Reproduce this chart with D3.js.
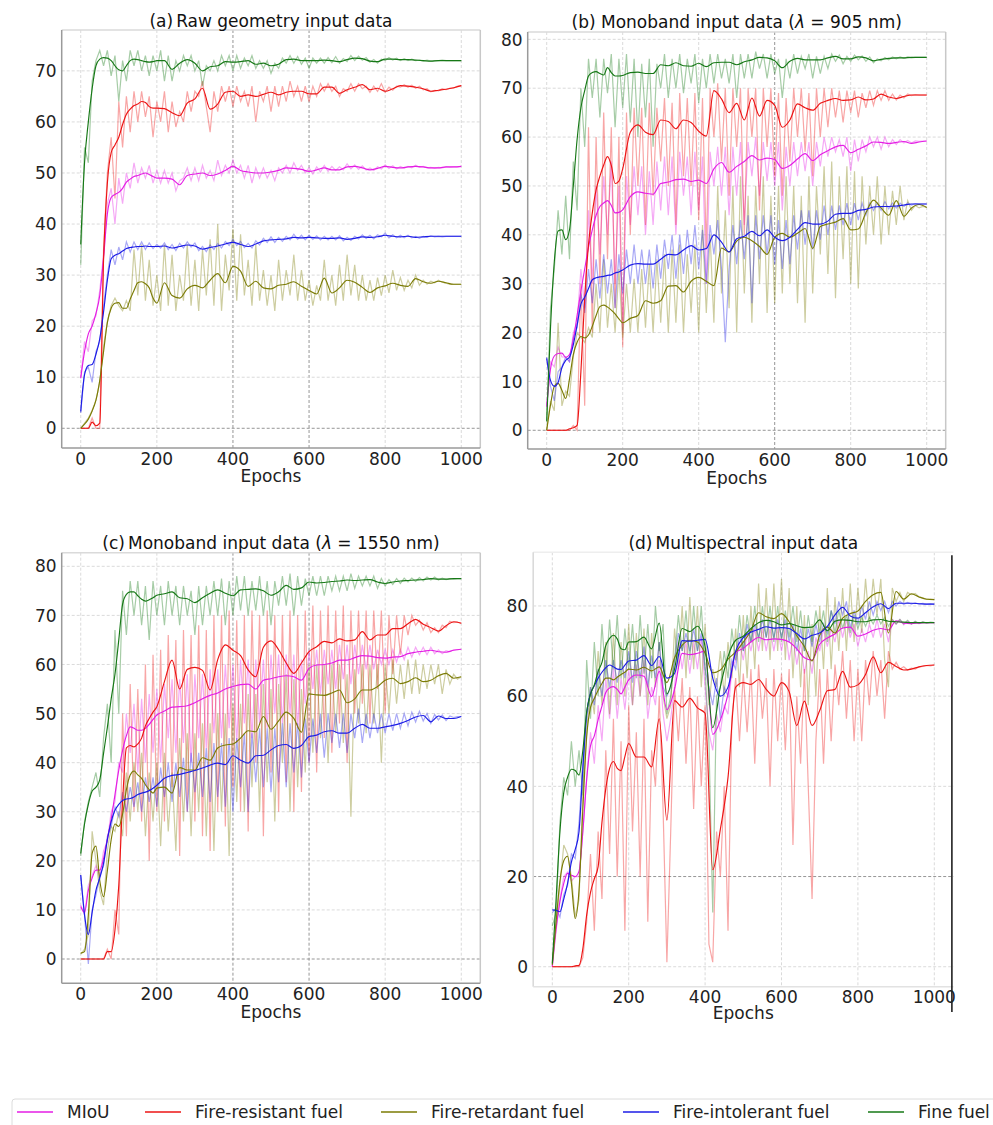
<!DOCTYPE html>
<html>
<head>
<meta charset="utf-8">
<script src="https://d3js.org/d3.v7.min.js"></script>
<style>
  body { margin: 0; background: #fff; }
  svg { font-family: "DejaVu Sans", sans-serif; }
</style>
</head>
<body>
<script>
// ---- series / legend ----
const seriesNames  = ["MIoU", "Fire-resistant fuel", "Fire-retardant fuel", "Fire-intolerant fuel", "Fine fuel"];
const seriesColors = ["#e41ee4", "#ec1414", "#7b7b05", "#1c1ce6", "#167816"];
const xTicks = [0, 200, 400, 600, 800, 1000];

// smoothed curves sampled every 10 epochs up to 190, then every 20
const smoothEpochs = d3.range(0, 200, 10).concat(d3.range(200, 1001, 20));
// raw curves sampled every 10 epochs
const rawEpochs = d3.range(0, 1001, 10);

// ---------- (a) Raw geometry ----------
const aMiouSmooth = [9.8,15,18.5,20,22.5,26,33.4,42,45.2,45.8,46.2,
  47,48.2,48.8,49.3,49.5,49.8,50,49.7,49.3,49,
  49,48.8,47.7,49.5,49.8,50,49.5,49.8,50.5,51.3,
  50.5,50.2,50,50,50.2,50.5,51,50.9,50.7,50.3,
  50.6,51,50.6,50.6,51.2,51.3,51,50.6,50.9,51.3,
  51.1,51,51.2,51.3,51.2,51,51,51.2,51.2,51.3];
const aFrSmooth = [0,0,0,1.2,0.5,1,33,48,54,55.5,57,
  59.5,61.5,62.5,63.2,63.5,64,63.8,63,62.7,62.7,
  62.6,61.8,61.2,63.7,64.5,66.6,62.5,63.5,65.8,66,
  65,65.3,65,65.4,65.8,65.3,65.8,66,66,65.5,
  65.5,66.8,66.8,65.6,66.3,66.8,67.3,66.3,66.6,66,
  66.5,67.1,67,66.8,66.5,66,66.2,66.4,66.7,67.1];
const aFtSmooth = [0,0.8,1.8,3.4,5.5,9.4,15,20.7,23.5,24.5,24.6,
  23.5,23.5,25.3,27,28.5,28.7,28.3,27.5,25.5,24.5,
  28.5,26,25.5,27.3,28,27.5,29,30.3,28.5,31.7,
  30.8,27.8,28.8,27.5,27.3,28,28.2,28.7,27.8,27,
  26.3,29.4,26.5,27.5,29,28.6,27.6,26.6,27.5,27.9,
  28.4,28,27.8,29.3,28.7,28.4,28.8,28.5,28.2,28.2];
const aFiSmooth = [3.3,10.5,12.3,12.5,14.5,17.5,22.8,29,33.2,33.9,34.2,
  34.7,35.2,35.4,35.5,35.6,35.6,35.7,35.6,35.6,35.6,
  35.7,35.3,35.6,35.9,35.7,35.1,35.4,35.7,36.1,36.4,
  36,35.6,36.1,36.7,36.9,37,37.1,37.4,37.3,37.4,
  37.3,37.2,37.2,37.3,37,37.2,37.5,37.4,37.5,37.8,
  37.6,37.5,37.6,37.4,37.5,37.6,37.6,37.6,37.6,37.6];
const aFfSmooth = [36,52,60,66.5,71,72.3,72.6,72.5,72,71,70.2,
  70,71,72,72.3,72.2,72,71.8,71.7,71.8,72,
  72,70.3,71.5,72.2,71.5,70,70.8,71,71.8,71.7,
  71.8,72,71.3,71.5,71,71.3,72.2,72.3,72,72,
  72,72.1,72,71.8,72.2,72.5,72.4,71.9,71.8,72.3,
  72.3,72.2,72.2,72.1,72,71.9,72,72,72,72];

const aMiouRaw = [10,17,15,21,22,27,34,44,47,40,
  49,44,50,47,52,48,51,49,51.5,48,
  50.5,48,50.5,48,50,46.5,48.5,49,51,48.5,
  51,48.5,51.5,49,50.5,48.5,52.5,49.5,51.5,50,
  52.5,50,51.5,49,51.5,48,51,49,51,49,
  50.5,48.5,51,50,51.5,50,52,50.5,51.5,50,
  51,49.8,51.2,50.2,51.5,50.3,51.3,50.5,51.2,50.6,
  51.8,50.8,51.6,50.7,51.4,50.6,51,50.5,51.2,50.8,
  51.6,50.9,51.4,50.8,51.3,50.9,51.3,51,51.5,51.1,
  51.3,51,51.1,50.9,51.1,51,51.2,51.1,51.2,51.2,
  51.3];
const aFrRaw = [0,0,0,2,0,0,35,50,57,45,
  64,55,65,58,66,60,66,61,65,57,
  64,60,66,58,64,59,62,60,66,62,
  66,65,68,63,58,66,62,67,64,67,
  63,67,64,66,63,67,60,66,64,67,
  62,67,63,67,64,68,65,67,64,67,
  64,67,65,67.5,66,67.5,66,67,65,66.5,
  66,67.5,66,67.5,66.5,67,65.8,67,66,67.5,
  65.8,66.8,66.2,67,66.8,67.3,66.8,67.2,66.6,67,
  66.3,66.5,65.9,66.2,66.1,66.5,66.3,66.6,66.6,67,
  67.1];
const aFtRaw = [0,1,2,3.5,5.5,9,16,21,24,25.5,
  24,23,25,23,35,26,36,25,33,24,
  30,23,36,24,34,23,30,25,36,24,
  33,23,35,26,37,24,40,23,34,27,
  39,25,38,26,33,24,36,25,31,24,
  30,23,33,25,31,26,34,25,31,25,
  29,24,28,25,33,25,30,24,32,25,
  34,26,32,25,30,25,29,25,29.5,26,
  30,26.5,31,27,29.5,27,29,27.5,30,28,
  29,28.2,28.8,28.5,29,28.6,28.4,28.2,28.2,28.2,
  28.2];
const aFiRaw = [3,11,12,9,15,17,24,30,35,32,
  35.5,33,36.5,34.5,36.5,35,36.5,35,36.3,35.2,
  36,35.3,36.3,35,36,34.8,36.2,35.3,36.5,35.5,
  36.3,34.8,35.6,34.6,35.9,35,36.2,35.3,36.6,35.8,
  37,35.8,36.6,35.4,36.2,35.3,36.7,35.9,37.2,36.4,
  37.5,36.4,37.4,36.6,37.6,36.9,38,37,37.8,36.9,
  37.8,37,37.7,36.9,37.6,36.9,37.6,36.9,37.7,36.7,
  37.4,36.8,37.6,37.1,37.9,37.2,37.8,37.1,37.9,37.5,
  38.2,37.3,37.9,37.3,37.8,37.3,37.8,37.3,37.6,37.2,
  37.6,37.4,37.7,37.5,37.6,37.5,37.6,37.6,37.6,37.6,
  37.6];
const aFfRaw = [32,55,52,68,72,74,71,74,69,73,
  64,72,68,74,71,74,70,73,69,73,
  70,74,68,73,68,72,70,73,71,73,
  70,72,67,71,70,72,70,73,71,73,
  70,73,70.5,72.5,71,73,70.5,72,70.5,72,
  69.5,71.5,70.5,72.5,71.5,73,71.5,72.8,71.3,72.5,
  70.5,72.5,71.5,72.5,71.5,72.6,71.6,72.8,71.5,72.4,
  71.8,73,72,72.9,72.1,72.6,71.7,72.2,71.5,72.3,
  72,72.6,72.1,72.5,72,72.4,72,72.3,72,72.1,
  71.9,72.1,71.9,72,72,72.1,72,72,72,72,
  72];

// ---------- (b) Monoband 905 nm ----------
const bMiouSmooth = [4.8,12.5,15.2,15.7,15.8,14.9,15.5,18.5,23.5,28.5,33,
  37.5,41,44,45.8,46.5,47,46,44.5,44.6,45.1,
  47.8,48.8,48.5,48.3,50.5,50.8,51.3,51.4,50.9,51.2,
  50.5,53.5,54.8,52.8,54,55,56.2,55.3,55.7,55.4,
  53.6,54.2,55.5,56.6,55.2,56.4,57.2,58,58.3,56.8,
  57.5,58.2,59,58.9,58.7,58.9,59.1,58.7,59,59.2];
const bFrSmooth = [0,0,0,0,0,0,0.3,0.5,1,12,27,
  38,44.5,49.2,52,54.3,56,54.2,50.5,51,53.5,
  61,62.5,61,60.5,63.5,63.2,61.7,63.5,63,61.2,
  60.2,69.5,67.8,65,66.9,63.5,68,64.3,67.5,66.5,
  62,63.5,66.8,66,65.5,66.9,67.5,67.9,67.5,67.6,
  68.2,67.6,67.8,68.8,68.2,67.9,68.3,68.6,68.6,68.6];
const bFtSmooth = [0,5.2,9,9.6,8.2,6.5,10.5,15.5,18,19.2,18.9,
  19.5,21.3,23.5,25.3,25.6,25.2,24.6,23.8,22.8,22,
  22.9,23.5,26.5,26,26.5,29.5,29.6,28.3,30.5,31.3,
  30.5,29.6,37.3,36.5,38.7,39.5,38.8,37.6,36,39.5,
  40.3,39.5,40.3,41.3,37.2,41.7,42.2,42.6,43.3,41,
  41.2,44.5,47.1,45.5,44,47,43.8,45.5,46.2,45.6];
const bFiSmooth = [14.7,10.2,9,9.8,12.8,14.3,15,17.5,21.5,25.8,27.2,
  29,30.8,31.2,31.4,31.5,31.7,31.8,32.2,32.4,32.8,
  33.8,34.1,34,34,35,36,35.9,36.9,37.8,36.9,
  37.2,40,38.5,36.5,39.2,39.7,40.7,39.8,41,39.5,
  38.8,39.5,41.1,42.5,42.2,42.2,42.8,44.2,44.4,44.4,
  45,45.2,45.7,45.8,45.8,45.9,46.1,46.3,46.3,46.3];
const bFfSmooth = [1.8,21,34.5,40.8,41,39,41,50,59.5,66,69.5,
  72.5,73.2,73.4,73,72.7,74.2,73.2,72.5,72.5,72.6,
  73.2,73.3,73,73,74.8,74.6,75.2,74.6,74.5,75.1,
  74.4,75.2,75.3,75.3,74.8,75.4,75.8,76.3,76.2,75.6,
  74.2,75.5,76.1,75.8,75.8,75.8,76.2,76.5,76,76,
  76.4,76.2,75.6,75.9,76.1,76.2,76.2,76.3,76.3,76.3];

const bMiouRaw = [5,14,13,17,15,15,14,20,22,33,
  25,45,30,50,36,52,40,55,30,50,
  20,52,42,54,44,54,40,53,42,55,
  45,56,44,56,40,57,48,56,44,57,
  45,56,30,57,50,58,48,58,44,58,
  48,59,42,59,52,60,48,59,51,59,
  50,59,45,58,50,59,52,59,53,59,
  50,59,54,60,56,60,57,59.5,56,60,
  53,59.5,55,59.5,57,60,58,60,57.5,60,
  58,59.5,58.5,59.5,58.8,59.3,58.8,59.2,59.1,59.2,
  59.2];
const bFrRaw = [0,0,0,0,0,0,0,1,0,30,
  5,62,20,60,30,65,35,62,25,60,
  17,65,40,66,50,66,42,67,48,66,
  55,68,50,67,42,69,52,68,50,69,
  43,68,37,70,60,71,55,70,48,70,
  58,70,40,70,60,70,45,70,58,70,
  52,69,48,68,55,70,60,70,57,69,
  52,70,60,70,62,70,64,69.5,63,69.5,
  65,69.5,64,69,66,69.5,66.5,69.5,67.5,69.5,
  67.5,68.8,67.6,68.6,68,68.8,68.5,68.7,68.6,68.6,
  68.6];
const bFtRaw = [0,6,4,22,5,8,7,15,20,19,
  18,21,19,30,20,35,21,30,20,33,
  19,30,20,31,20,33,21,34,20,35,
  22,36,20,37,22,38,20,36,24,38,
  20,42,24,40,22,50,28,45,25,50,
  20,52,28,48,22,50,30,52,24,48,
  26,50,28,52,30,50,26,48,22,52,
  28,50,36,54,32,55,27,52,35,54,
  30,53,29,52,38,50,40,52,38,50,
  40,49,42,50,43,47,45,46,45.5,45.8,
  45.6];
const bFiRaw = [15,9,6,12,13,15,14,19,21,28,
  24,33,26,35,27,36,28,35,25,36,
  28,37,30,38,30,37,30,37,29,38,
  31,39,33,40,31,40,32,41,34,42,
  33,41,30,42,36,43,33,18,33,42,
  34,43,35,44,26,44,35,44,36,44,
  34,43,33,43,34,44,37,45,38,45,
  37,45,39,46,40,46,41,46,42,46.5,
  42,46.5,43,46.5,44,46.5,45,46.5,45,46.8,
  45.3,46.5,45.5,46.5,45.8,46.5,46.1,46.4,46.3,46.3,
  46.3];
const bFfRaw = [2,25,33,45,36,48,35,55,45,70,
  58,76,68,76,64,76,69,77,62,76,
  66,77,63,76,60,75,64,76,58,75,
  70,77,68,76,70,77,69,76,71,77,
  67,76,70,77,71,77,72,76,71,77,
  68,77,72,77,72,77.5,74,77,72,77,
  73,76,68,76,72,77,73,76.5,74,77,
  72,76.5,73,76.5,74,77,75.5,76.8,75,76.5,
  75.5,76.8,75.8,76.6,75.5,76.4,75.2,76,75.6,76.3,
  75.8,76.4,76,76.4,76.1,76.4,76.2,76.3,76.3,76.3,
  76.3];

// ---------- (c) Monoband 1550 nm ----------
const cMiouSmooth = [10.7,9.5,14,16.5,18.1,18.1,20.5,24.5,28.5,33.5,38.5,
  42.5,45.5,47.3,47,46.6,46.6,47,47.8,48.8,49.7,
  50.5,51.3,51.4,51.6,52.2,53,53.7,54.2,55,55.5,
  55.9,56,55,56.8,57.1,57.5,57.7,57.5,56.8,59.2,
  59.9,60,60.3,60.9,60.9,61.4,61.8,61.7,61.4,61.3,
  61.5,61.6,62.2,62.5,62.7,62.9,62.6,62.5,62.9,63.1];
const cFrSmooth = [0,0,0,0,0,0,0,1.5,1.5,5.9,15,
  32,43,43.5,43.2,43.8,45,47.5,49,50.3,51.4,
  56.5,60.9,55,59,59.4,58.8,54.8,61,64,62.9,
  61.8,58.9,57.5,63.5,64.8,63,60.3,58.2,60.3,62.6,
  63.6,64.7,64.4,65.2,64.8,65,66.7,65,66,66,
  67.3,67.3,68.3,69.2,68.2,67.5,66.8,67.9,68.7,68.4];
const cFtSmooth = [1.2,1.5,9,21.5,23,16,12.7,18,24.3,27.5,27,
  29.5,34.5,37.5,38.3,37.5,36.8,35.5,34.5,33.8,34.8,
  35,33.8,39,38.5,38.5,41,40.5,43,43.6,43.8,
  45,46.5,46.3,49.4,46.8,48.5,50.3,49,46.2,54,
  53.8,53.7,54.2,54.8,52.2,53,54.8,54.8,55.5,56.8,
  57.2,56.1,56.5,57.3,56.5,56.8,57.7,58.2,57.2,57.5];
const cFiSmooth = [17.1,9,5,9.5,14,16.5,19.5,24.3,28,30.3,31.5,
  32.3,32.6,32.7,33,33.5,33.8,34,34.3,34.8,35.4,
  36.8,37.4,37.6,38,38.4,38.9,39.5,39.9,39.6,41.4,
  40.5,39.9,41.4,41.5,42.6,43.5,43.7,42.9,43.5,45.3,
  45.6,46.3,46.5,46,46,47,47.8,47,47,47.3,
  47.6,48,48.6,49.3,49.6,48.3,49.5,49,49,49.4];
const cFfSmooth = [21.5,27.5,31.5,34.2,35,36.5,41.9,47.2,53,58,65,
  72.3,74.3,74.8,74.8,74,73.3,72.9,73.2,73.6,74.1,
  74.4,74.8,73.6,73.4,72.6,73.6,74.5,75.2,74.5,74,
  75.2,75.3,75.4,75,74.1,74.8,76.1,75.3,75.6,76.8,
  76.6,76.7,76.9,77,77.2,77.1,77.2,77.3,76.8,76.5,
  76.8,77,77.1,77.2,77.3,77.5,77.4,77.4,77.5,77.5];

const cMiouRaw = [11,9,15,17,19,17,22,24,30,32,
  40,38,50,42,52,38,53,40,54,42,
  55,40,56,45,57,42,57,44,58,40,
  58,45,58,43,59,46,59,45,60,47,
  60,44,61,48,61,45,61,48,61,47,
  62,50,62,48,62,50,62,47,61,52,
  63,55,63,54,63,56,63,55,64,57,
  64,56,64,58,64,59,64,59,63,60,
  63,60,63,60.5,63,61,63.5,61.5,63.5,62,
  63.5,62,63.5,62.2,63,62.2,62.8,62.6,63,63,
  63.1];
const cFrRaw = [0,0,0,0,0,0,0,2,0,10,
  5,50,25,56,30,55,28,60,20,62,
  30,63,28,66,35,65,21,67,30,66,
  28,68,25,67,22,70,30,70,27,71,
  35,69,30,70,26,71,40,70,25,71,
  38,70,30,70,36,71,30,70,34,71,
  40,72,38,71,45,72,42,71,48,72,
  40,71,50,71,52,71,48,71,55,71,
  50,70,58,70,62,70,66,70,68,69,
  67,68.5,66.5,67.5,66.5,68,67.5,68.8,68.5,68.6,
  68.4];
const cFtRaw = [1,2,5,26,20,14,11,22,27,26,
  30,25,38,28,40,30,42,25,38,28,
  40,23,42,26,38,22,45,28,46,25,
  46,30,48,25,48,22,50,30,50,21,
  52,32,52,30,54,35,54,30,56,36,
  55,28,56,40,58,30,57,35,55,38,
  60,42,60,45,60,40,60,46,60,44,
  58,29,59,48,60,46,60,48,60,40,
  60,50,61,52,60,53,61,54,61,54,
  60,55,60,56,60,54,59,56,58,57,
  57.5];
const cFiRaw = [17,9,-1,10,13,17,19,25,27,31,
  29,34,30,35,31,36,30,37,32,37,
  31,39,33,40,32,40,33,41,30,42,
  34,42,33,43,32,44,33,44,31,45,
  30,45,35,46,30,46,36,47,35,47,
  34,47,36,48,35,48,38,48,37,49,
  40,49,42,50,41,50,44,50,43,50,
  42,50,45,51,44,50,45,50,46,50,
  46,50,46.5,50,47,50,47.5,50.3,48.3,50.5,
  48.5,50,48,49.8,48.7,49.7,48.6,49.5,49.2,49.4,
  49.4];
const cFfRaw = [21,28,32,35,38,33,45,52,40,67,
  50,75,66,77,70,77,68,76,65,77,
  70,76,68,77,70,76,68,76,70,75,
  66,76,68,76,70,77,70,77.5,68,77,
  70,78,71,78,70,77,71,78,70,77,
  68,77,72,78,72,78.5,70,78,72,77.5,
  74,78,74,78,74,78,75,78,75,78,
  75,78.5,75.5,78,76,78,76,78,75.5,77.5,
  76,77.3,76.3,77.5,76.5,77.6,76.8,77.6,76.9,77.7,
  77,77.8,77.2,77.8,77.2,77.6,77.3,77.5,77.4,77.5,
  77.5];

// ---------- (d) Multispectral ----------
const dMiouSmooth = [0,8.5,14.5,18.5,20.7,20.3,20,21.2,30,41.5,49,
  51.2,54.8,57.8,60.8,61.8,62.1,61.5,60.5,62,63.6,
  64.7,64.4,59.9,65.5,57,61.5,69.5,69.2,69.5,70,
  51.5,54.7,60.5,69.6,70.6,72,73,72.5,72.7,72.6,
  72,70.5,68.5,68,71.5,72.9,73.8,75.1,75.3,73.3,
  73.8,74.6,75,74.7,76.7,76.2,76.1,76.2,76.3,76.3];
const dFrSmooth = [0,0,0,0,0,0,0.2,0.3,4,11.5,16.5,
  19.5,22.2,32,39.5,44,45.5,44,43.5,46.6,49.5,
  46.5,46.5,44.3,55,32.5,59,57.6,59.5,57.4,56.2,
  21.5,30.5,42,62,63,62.6,63.7,61.5,60,63,
  61,53.5,58.9,53.5,56.8,61.2,61.5,65.5,62,62.5,
  64.8,68.7,65.2,67.5,66.6,65.8,66,66.5,66.8,66.9];
const dFtSmooth = [0.4,10,19,23.5,24.5,18.5,10.7,17,35,51,57.5,
  59.5,61.3,62.8,64,64,63.6,64.2,64.8,65.3,66,
  65.8,66.4,65.6,66.5,63,68.5,71.3,72.4,72,69.5,
  65.2,65.8,68.2,69.8,72,74.5,78.5,77.6,77.2,78.3,
  76.5,73.4,71,67.8,73.5,75.3,74,77.3,78.3,78.9,
  81,82.5,83,74,83.2,81.5,82.7,82,81.5,81.4];
const dFiSmooth = [12.6,12.5,12.2,15,18.5,23.2,26,30,44,56.2,60.5,
  62.3,64,65.3,66.3,66.9,66.5,66,65.9,66.9,67.8,
  68,69,66.8,68.8,64,65,72.3,72.2,72.4,72.6,
  64,60,62,70,73,74.2,74.8,75.4,75.1,75.2,
  75,73.9,72.7,73.5,74,75.5,78,79.7,77.8,77.3,
  78.5,79.8,80.5,79.4,80.6,80.6,80.6,80.5,80.4,80.4];
const dFfSmooth = [0.7,15,30,38.6,42,43.8,43.5,42.5,48,56.5,60.5,
  62.5,65.5,67.5,71.2,72.8,73.5,72.7,70.5,70.3,72,
  72.1,73.1,70.5,76.2,60.5,66,75,74.3,75.5,71,
  53,62.1,68.8,72.4,73.3,75,76.3,76.8,76.5,75.8,
  76.1,75.6,75.2,75.3,76.9,74.5,76.6,76.9,76.8,76.5,
  76.5,76.9,77,76.6,76.5,76.4,76.3,76.3,76.3,76.3];

const dMiouRaw = [0,8,15,20,21,19,20,20,30,42,
  52,45,58,50,64,55,66,55,64,57,
  66,58,67,60,68,55,62,58,68,56,
  50,55,62,72,66,72,65,72,66,73,
  62,52,48,56,52,58,56,66,68,72,
  68,74,70,75,70,75,70,75,70,75,
  70,75,68,73,67,72,65,70,65,73,
  70,75,71,75,72,77,73,77,73,76,
  71,75,72,76,73,77,73,76,72,77,
  76,77,75.8,76.6,76,76.5,76.1,76.4,76.2,76.3,
  76.3];
const dFrRaw = [0,0,0,0,0,0,0,0,2,10,
  25,8,30,15,48,25,55,20,50,8,
  58,30,52,20,55,10,48,40,60,35,
  1,30,62,50,64,45,62,35,60,40,
  58,5,1,30,20,40,8,55,64,50,
  65,52,66,45,67,55,64,40,66,50,
  65,48,66,27,60,45,66,40,15,50,
  66,45,66,50,67,58,70,55,68,50,
  66,50,68,58,70,60,68,55,70,66,
  67.5,66,66.5,65.8,66.2,66,66.5,66.6,66.8,66.7,
  66.9];
const dFtRaw = [1,10,18,27,25,20,11,15,38,52,
  62,56,70,58,72,56,74,58,72,60,
  76,58,74,60,75,58,74,62,72,60,
  55,58,75,66,80,64,82,66,80,62,
  76,58,66,62,70,60,72,64,75,62,
  78,64,80,66,85,70,84,68,85,70,
  86,68,84,64,80,62,78,58,76,60,
  80,66,84,66,82,70,84,70,85,72,
  84,74,86,76,86,78,86,68,62,84,
  81,83,81,83,82.5,82.8,82,81.8,81.5,81.6,
  81.4];
const dFiRaw = [12,13,11,16,18,25,24,32,45,55,
  62,58,66,60,68,62,68,63,68,64,
  70,63,70,64,71,62,69,64,72,62,
  60,62,68,74,70,74,70,75,70,74,
  66,62,58,64,55,62,60,68,66,74,
  70,76,72,76,73,77,73,77,73,77,
  73,77,72,76,70,75,70,75,71,76,
  72,76,74,79,76,81,78,81,75,79,
  76,80,77,81,78,81,79,81,78.5,81,
  80,81,80.3,80.8,80.4,80.7,80.4,80.6,80.4,80.5,
  80.4];
const dFfRaw = [9,12,32,42,38,50,40,48,38,68,
  55,72,60,76,64,77,66,78,64,75,
  66,76,64,78,65,76,64,80,70,76,
  56,60,68,78,70,79,68,80,70,80,
  66,50,12,60,62,70,64,75,68,78,
  70,78,72,80,72,80,73,80,72,80,
  72,79,73,80,72,79,70,78,72,79,
  74,79,72,79,74,79,75,78,74,78,
  75,77.5,75.5,77.5,76,78,76,77.5,75.5,77,
  76,77,76,76.8,76,76.6,76.1,76.5,76.2,76.4,
  76.3];

// ---- panel setup (layout in pixels) ----
const panels = [
  { title: [["(a)"], ["Raw geometry input data", false, 3]],
    box: {left: 61.7, right: 480.3, top: 30, bottom: 448},
    yDomain: [-3.86, 78], yTicks: [0,10,20,30,40,50,60,70],
    titleY: 26.5, tickY: 465, labelY: 482,
    darkX: [400, 600], darkY: [0],
    smooth: [aMiouSmooth, aFrSmooth, aFtSmooth, aFiSmooth, aFfSmooth],
    raw: [aMiouRaw, aFrRaw, aFtRaw, aFiRaw, aFfRaw] },
  { title: [["(b) Monoband input data ("], ["λ", true], [" = 905 nm)"]],
    box: {left: 527.7, right: 945.7, top: 32, bottom: 449},
    yDomain: [-3.83, 81.5], yTicks: [0,10,20,30,40,50,60,70,80],
    titleY: 27.7, tickY: 465.7, labelY: 484,
    darkX: [600], darkY: [0],
    smooth: [bMiouSmooth, bFrSmooth, bFtSmooth, bFiSmooth, bFfSmooth],
    raw: [bMiouRaw, bFrRaw, bFtRaw, bFiRaw, bFfRaw] },
  { title: [["(c)"], ["Monoband input data (", false, 3], ["λ", true], [" = 1550 nm)"]],
    box: {left: 61.7, right: 480.3, top: 552.7, bottom: 983.3},
    yDomain: [-4.95, 82.77], yTicks: [0,10,20,30,40,50,60,70,80],
    titleY: 549.3, tickY: 1000, labelY: 1017.5,
    darkX: [400, 600], darkY: [0],
    smooth: [cMiouSmooth, cFrSmooth, cFtSmooth, cFiSmooth, cFfSmooth],
    raw: [cMiouRaw, cFrRaw, cFtRaw, cFiRaw, cFfRaw] },
  { title: [["(d)"], ["Multispectral input data", false, 3]],
    box: {left: 533.2, right: 953.4, top: 552.3, bottom: 986.7},
    yDomain: [-4.43, 91.9], yTicks: [0,20,40,60,80],
    titleY: 549.3, tickY: 1002.7, labelY: 1019,
    darkX: [], darkY: [20],
    smooth: [dMiouSmooth, dFrSmooth, dFtSmooth, dFiSmooth, dFfSmooth],
    raw: [dMiouRaw, dFrRaw, dFtRaw, dFiRaw, dFfRaw] }
];

const W = 993, H = 1125;
const svg = d3.select("body").append("svg")
  .attr("width", W).attr("height", H);

panels.forEach((p, pi) => {
  const b = p.box;
  const x = d3.scaleLinear().domain([-50, 1050]).range([b.left, b.right]);
  const y = d3.scaleLinear().domain(p.yDomain).range([b.bottom, b.top]);
  const g = svg.append("g");

  // clip to the axes area
  g.append("clipPath").attr("id", "clip" + pi)
    .append("rect")
    .attr("x", b.left).attr("y", b.top)
    .attr("width", b.right - b.left).attr("height", b.bottom - b.top);

  // grid
  g.selectAll(".gx").data(xTicks).enter().append("line")
    .attr("x1", d => x(d)).attr("x2", d => x(d))
    .attr("y1", b.top).attr("y2", b.bottom)
    .attr("stroke", d => p.darkX.includes(d) ? "#8a8a8a" : "#d6d6d6")
    .attr("stroke-width", 0.9)
    .attr("stroke-dasharray", "3,2");
  g.selectAll(".gy").data(p.yTicks).enter().append("line")
    .attr("x1", b.left).attr("x2", b.right)
    .attr("y1", d => y(d)).attr("y2", d => y(d))
    .attr("stroke", d => p.darkY.includes(d) ? "#8a8a8a" : "#d6d6d6")
    .attr("stroke-width", 0.9)
    .attr("stroke-dasharray", "3,2");

  const plot = g.append("g").attr("clip-path", `url(#clip${pi})`);

  // raw (light) curves first
  const rawLine = d3.line().x((d, i) => x(rawEpochs[i])).y(d => y(d));
  p.raw.forEach((vals, si) => {
    plot.append("path")
      .datum(vals)
      .attr("fill", "none")
      .attr("stroke", seriesColors[si])
      .attr("stroke-opacity", 0.38)
      .attr("stroke-width", 1.2)
      .attr("d", rawLine);
  });

  // smoothed curves on top
  const smoothLine = d3.line()
    .x((d, i) => x(smoothEpochs[i])).y(d => y(d))
    .curve(d3.curveMonotoneX);
  p.smooth.forEach((vals, si) => {
    plot.append("path")
      .datum(vals)
      .attr("fill", "none")
      .attr("stroke", seriesColors[si])
      .attr("stroke-width", 1.15)
      .attr("d", smoothLine);
  });

  // spines
  const spine = (x1, y1, x2, y2, c) => g.append("line")
    .attr("x1", x1).attr("y1", y1).attr("x2", x2).attr("y2", y2)
    .attr("stroke", c).attr("stroke-width", 1.5);
  if (pi < 3) {
    spine(b.left, b.top, b.right, b.top, "#dadada");
    spine(b.right, b.top, b.right, b.bottom, "#c8c8c8");
    spine(b.left, b.top, b.left, b.bottom, "#9a9a9a");
    spine(b.left, b.bottom, b.right, b.bottom, "#9a9a9a");
  } else {
    spine(b.left, b.top, b.right, b.top, "#eeeeee");
    spine(b.left, b.top, b.left, b.bottom, "#d8d8d8");
    spine(b.left, b.bottom, b.right, b.bottom, "#e2e2e2");
    spine(b.right - 1.5, b.top + 3, b.right - 1.5, 1012, "#111");
  }

  // tick labels
  g.selectAll(".ty").data(p.yTicks).enter().append("text")
    .attr("x", b.left - 5).attr("y", d => y(d) + 6.2)
    .attr("text-anchor", "end")
    .attr("font-size", 17).attr("fill", "#222")
    .text(d => d);
  g.selectAll(".tx").data(xTicks).enter().append("text")
    .attr("x", d => x(d)).attr("y", p.tickY)
    .attr("text-anchor", "middle")
    .attr("font-size", 17).attr("fill", "#222")
    .text(d => d);

  // axis label
  g.append("text")
    .attr("x", (b.left + b.right) / 2).attr("y", p.labelY)
    .attr("text-anchor", "middle")
    .attr("font-size", 17).attr("fill", "#222")
    .text("Epochs");

  // title
  const t = g.append("text")
    .attr("x", (b.left + b.right) / 2).attr("y", p.titleY)
    .attr("text-anchor", "middle")
    .attr("font-size", 17).attr("fill", "#111");
  p.title.forEach(part => {
    const s = t.append("tspan").text(part[0]);
    if (part[1]) s.attr("font-style", "italic");
    if (part[2]) s.attr("dx", part[2]);
  });
});

// ---- legend ----
const legendX = [17, 145, 381, 623, 868];
const lg = svg.append("g");
lg.append("rect")
  .attr("x", 12).attr("y", 1099)
  .attr("width", 1000).attr("height", 40)
  .attr("rx", 3)
  .attr("fill", "#fff")
  .attr("stroke", "#dcdcdc").attr("stroke-width", 1);
seriesNames.forEach((name, i) => {
  lg.append("line")
    .attr("x1", legendX[i]).attr("x2", legendX[i] + 36)
    .attr("y1", 1112).attr("y2", 1112)
    .attr("stroke", seriesColors[i]).attr("stroke-width", 1.3);
  lg.append("text")
    .attr("x", legendX[i] + 50).attr("y", 1118)
    .attr("font-size", 17).attr("fill", "#222")
    .text(name);
});
</script>
</body>
</html>
